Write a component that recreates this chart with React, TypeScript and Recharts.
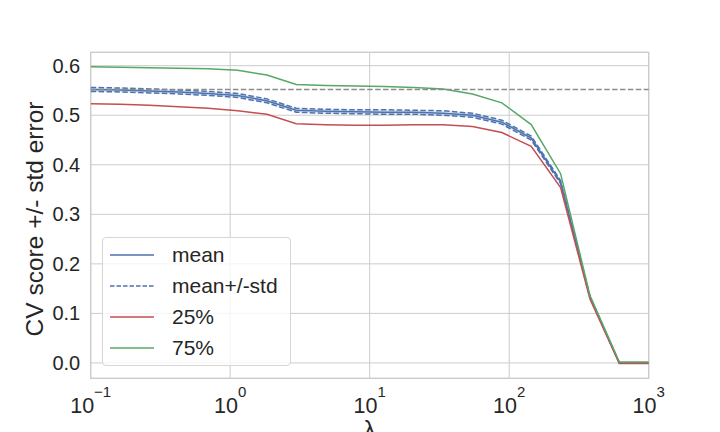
import {
  Area,
  CartesianGrid,
  ComposedChart,
  Label,
  Legend,
  Line,
  ReferenceArea,
  ReferenceLine,
  XAxis,
  YAxis,
} from "recharts";

const lambdas = [
  0.1, 0.1624, 0.2637, 0.4281, 0.6952, 1.129, 1.833, 2.976, 4.833, 7.848,
  12.74, 20.69, 33.6, 54.56, 88.59, 143.8, 233.6, 379.3, 615.8, 1000,
];
const meanScore = [
  0.552, 0.551, 0.549, 0.547, 0.544, 0.54, 0.529, 0.51, 0.508, 0.507, 0.506,
  0.506, 0.504, 0.5, 0.486, 0.454, 0.365, 0.133, 0.0, 0.0,
];
const meanPlusStd = [
  0.556, 0.555, 0.553, 0.551, 0.548, 0.544, 0.533, 0.514, 0.512, 0.511, 0.511,
  0.51, 0.509, 0.504, 0.49, 0.458, 0.368, 0.135, 0.0, 0.0,
];
const meanMinusStd = [
  0.548, 0.547, 0.545, 0.543, 0.54, 0.536, 0.525, 0.506, 0.504, 0.503, 0.502,
  0.502, 0.5, 0.496, 0.482, 0.45, 0.362, 0.131, 0.0, 0.0,
];
const q25 = [
  0.523, 0.522, 0.52, 0.517, 0.514, 0.509, 0.502, 0.483, 0.481, 0.48, 0.48,
  0.481, 0.481, 0.477, 0.465, 0.437, 0.354, 0.129, -0.001, -0.001,
];
const q75 = [
  0.598, 0.597, 0.596, 0.595, 0.594, 0.591, 0.581, 0.562, 0.56, 0.559, 0.558,
  0.556, 0.553, 0.543, 0.525, 0.481, 0.382, 0.136, 0.002, 0.002,
];
const bestScore = 0.552;

const xTicks = [0.1, 1, 10, 100, 1000];
const xTickExps = ["\u22121", "0", "1", "2", "3"];
const yTicks = [0, 0.1, 0.2, 0.3, 0.4, 0.5, 0.6];

const BLUE = "#4C72B0";
const RED = "#C44E52";
const GREEN = "#55A868";
const TEXT = "#262626";
const GRID = "#cccccc";
const FONT = "'Liberation Sans', Arial, sans-serif";
const DASH = "5.5 2.4";

const legendItems = [
  { label: "mean", color: BLUE, dash: undefined as string | undefined },
  { label: "mean+/-std", color: BLUE, dash: "4.5 2" },
  { label: "25%", color: RED, dash: undefined },
  { label: "75%", color: GREEN, dash: undefined },
];

const rows = lambdas.map((lam, i) => ({
  lam,
  mean: meanScore[i],
  upper: meanPlusStd[i],
  lower: meanMinusStd[i],
  band: [meanMinusStd[i], meanPlusStd[i]],
  q25: q25[i],
  q75: q75[i],
}));

function XTick(props: any) {
  const { x, y, payload } = props;
  const exp = xTickExps[xTicks.indexOf(payload.value)];
  return (
    <text x={x} y={y + 34.4} textAnchor="middle" fill={TEXT} fontFamily={FONT}>
      <tspan fontSize={21.5}>10</tspan>
      <tspan fontSize={15} dy={-15.5}>
        {exp}
      </tspan>
    </text>
  );
}

function LegendBox() {
  return (
    <div
      style={{
        boxSizing: "border-box",
        width: 189,
        height: 129,
        border: "1px solid #d6d6d6",
        borderRadius: 4,
        background: "rgba(255,255,255,0.8)",
        paddingTop: 1,
        fontFamily: FONT,
        fontSize: 21,
        color: TEXT,
      }}
    >
      {legendItems.map((it) => (
        <div key={it.label} style={{ height: 31, display: "flex", alignItems: "center" }}>
          <svg width={44} height={4} style={{ marginLeft: 7, marginRight: 18 }}>
            <line x1={0} y1={2} x2={44} y2={2} stroke={it.color} strokeWidth={1.5} strokeDasharray={it.dash} />
          </svg>
          <span style={{ lineHeight: "31px" }}>{it.label}</span>
        </div>
      ))}
    </div>
  );
}

export default function App() {
  return (
    <div style={{ position: "absolute", left: 0, top: 0, width: 720, height: 432, background: "#fff" }}>
      <ComposedChart
        width={720}
        height={432}
        data={rows}
        margin={{ top: 52.3, right: 71.3, bottom: 0, left: 0 }}
      >
        <CartesianGrid stroke={GRID} strokeWidth={1} />
        <XAxis
          dataKey="lam"
          type="number"
          scale="log"
          domain={[0.1, 1000]}
          allowDataOverflow
          ticks={xTicks}
          tick={<XTick />}
          tickLine={false}
          axisLine={false}
          tickSize={0}
          tickMargin={0}
          height={53.7}
        >
          <Label
            content={() => (
              <text x={369.7} y={438} textAnchor="middle" fontSize={24.5} fill={TEXT} fontFamily={FONT}>
                λ
              </text>
            )}
          />
        </XAxis>
        <YAxis
          type="number"
          domain={[-0.031, 0.627]}
          allowDataOverflow
          ticks={yTicks}
          tickFormatter={(v: number) => v.toFixed(1)}
          tick={{ fill: TEXT, fontSize: 20, fontFamily: FONT }}
          tickLine={false}
          axisLine={false}
          tickSize={0}
          tickMargin={10.5}
          width={90.7}
        >
          <Label
            content={() => (
              <text
                x={0}
                y={0}
                transform="translate(42.5,219) rotate(-90)"
                textAnchor="middle"
                fontSize={24.5}
                fill={TEXT}
                fontFamily={FONT}
              >
                CV score +/- std error
              </text>
            )}
          />
        </YAxis>
        <ReferenceArea
          x1={0.1}
          x2={1000}
          y1={-0.031}
          y2={0.627}
          fill="none"
          stroke={GRID}
          strokeWidth={1.25}
          ifOverflow="visible"
        />
        <Area
          dataKey="band"
          type="linear"
          stroke="none"
          fill={BLUE}
          fillOpacity={0.2}
          isAnimationActive={false}
          legendType="none"
        />
        <Line dataKey="mean" type="linear" stroke={BLUE} strokeWidth={1.5} dot={false} isAnimationActive={false} />
        <Line dataKey="upper" type="linear" stroke={BLUE} strokeWidth={1.5} strokeDasharray={DASH} dot={false} isAnimationActive={false} />
        <Line dataKey="lower" type="linear" stroke={BLUE} strokeWidth={1.5} strokeDasharray={DASH} dot={false} isAnimationActive={false} />
        <Line dataKey="q25" type="linear" stroke={RED} strokeWidth={1.5} dot={false} isAnimationActive={false} />
        <Line dataKey="q75" type="linear" stroke={GREEN} strokeWidth={1.5} dot={false} isAnimationActive={false} />
        <ReferenceLine y={bestScore} stroke="#8c8c8c" strokeWidth={1.5} strokeDasharray={DASH} ifOverflow="visible" />
        <Legend
          layout="horizontal"
          verticalAlign="middle"
          align="center"
          content={<LegendBox />}
          wrapperStyle={{ left: 102, top: 237, width: 189, height: 129 }}
        />
      </ComposedChart>
    </div>
  );
}
